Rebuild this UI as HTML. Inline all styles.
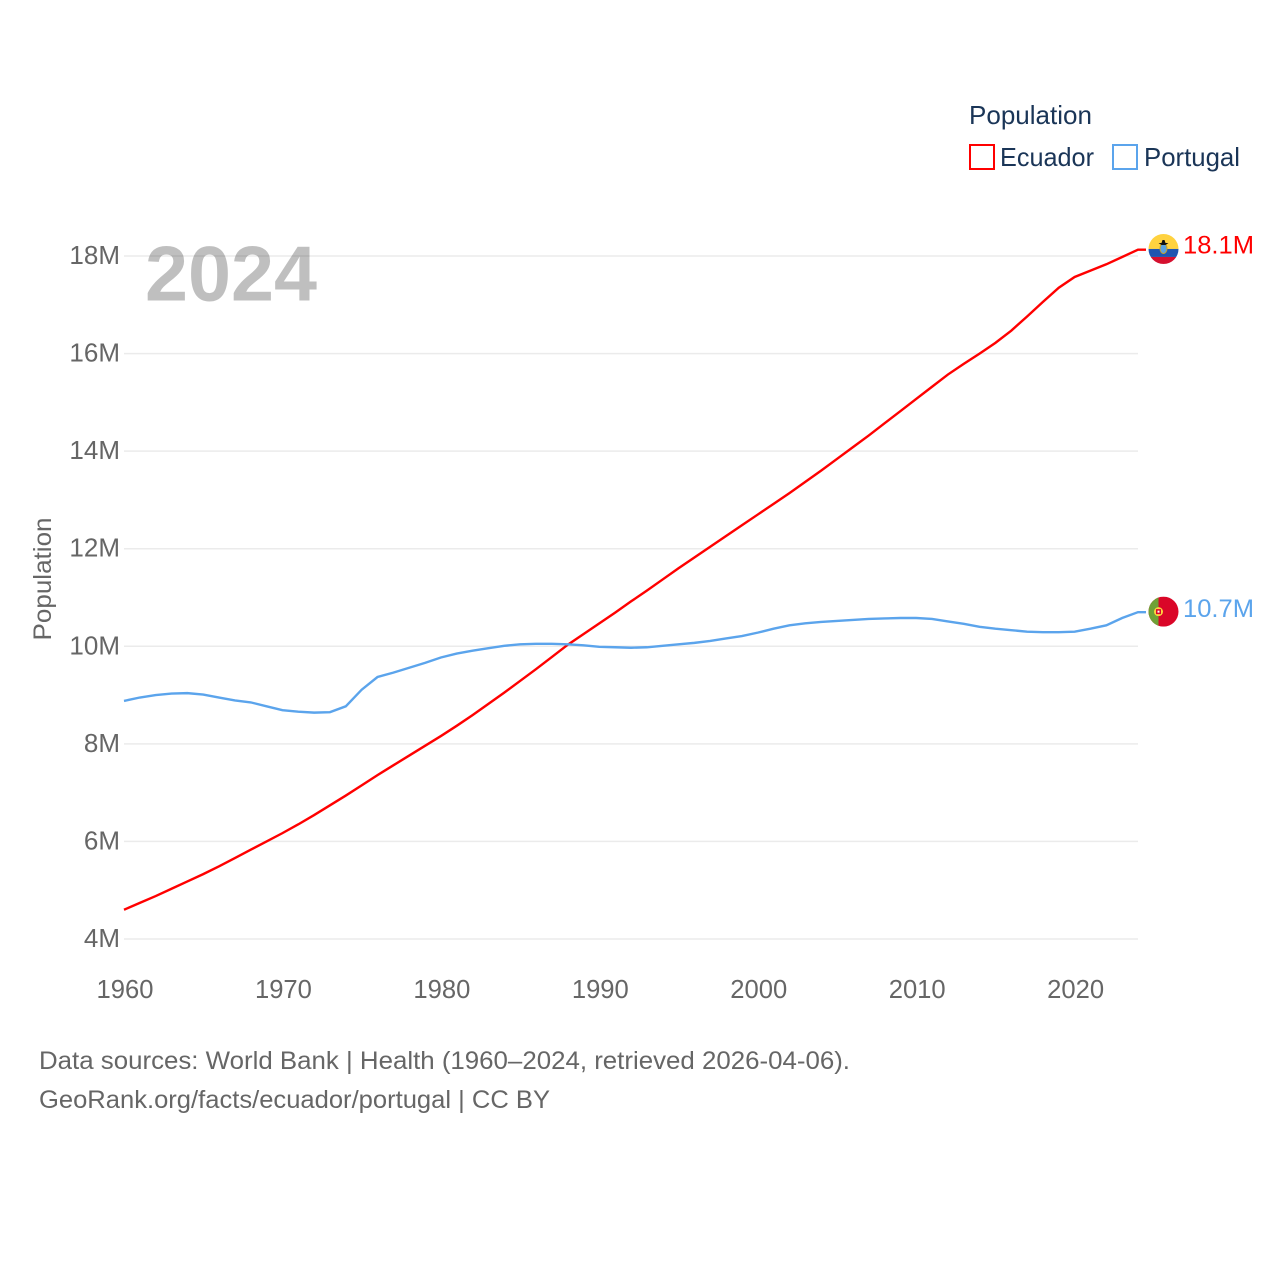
<!DOCTYPE html>
<html lang="en">
<head>
<meta charset="utf-8">
<title>Population: Ecuador and Portugal</title>
<style>
html,body{margin:0;padding:0;background:#fff;}
svg{display:block;font-family:"Liberation Sans",sans-serif;}
</style>
</head>
<body>
<svg id="chart" xmlns="http://www.w3.org/2000/svg" width="1280" height="1280" viewBox="0 0 1280 1280">
  <defs>
    <clipPath id="ecuador-clip"><circle cx="0" cy="0" r="15"></circle></clipPath>
    <clipPath id="portugal-clip"><circle cx="0" cy="0" r="15"></circle></clipPath>
  </defs>
  <g id="grid"></g>
  <g id="y-ticks"></g>
  <g id="x-ticks"></g>
  <text x="145" y="300.5" font-size="78" font-weight="700" fill="#000" fill-opacity="0.25" textLength="172" lengthAdjust="spacingAndGlyphs">2024</text>
  <text transform="translate(51,579) rotate(-90)" text-anchor="middle" font-size="25" fill="#666" textLength="123" lengthAdjust="spacingAndGlyphs">Population</text>
  <g id="series"></g>
  <g id="ends"></g>
  <g>
    <text x="969" y="124" font-size="26" fill="#1a3557" textLength="123" lengthAdjust="spacingAndGlyphs">Population</text>
    <rect x="970" y="145" width="24" height="24" fill="#fff" stroke="#ff0000" stroke-width="2"></rect>
    <text x="1000" y="166" font-size="26" fill="#1a3557" textLength="94" lengthAdjust="spacingAndGlyphs">Ecuador</text>
    <rect x="1113" y="145" width="24" height="24" fill="#fff" stroke="#5ba4ec" stroke-width="2"></rect>
    <text x="1144" y="166" font-size="26" fill="#1a3557" textLength="96" lengthAdjust="spacingAndGlyphs">Portugal</text>
  </g>
  <text x="39" y="1069" font-size="25" fill="#666" textLength="811" lengthAdjust="spacingAndGlyphs">Data sources: World Bank | Health (1960–2024, retrieved 2026-04-06).</text>
  <text x="39" y="1108" font-size="25" fill="#666" textLength="511" lengthAdjust="spacingAndGlyphs">GeoRank.org/facts/ecuador/portugal | CC BY</text>
</svg>
<script>
const years = [1960,1961,1962,1963,1964,1965,1966,1967,1968,1969,1970,1971,1972,1973,1974,1975,1976,1977,1978,1979,1980,1981,1982,1983,1984,1985,1986,1987,1988,1989,1990,1991,1992,1993,1994,1995,1996,1997,1998,1999,2000,2001,2002,2003,2004,2005,2006,2007,2008,2009,2010,2011,2012,2013,2014,2015,2016,2017,2018,2019,2020,2021,2022,2023,2024];
const ecuadorValues = [4.60,4.74,4.88,5.03,5.18,5.33,5.49,5.66,5.83,6.00,6.17,6.35,6.54,6.74,6.94,7.15,7.36,7.56,7.76,7.96,8.16,8.37,8.59,8.82,9.05,9.29,9.53,9.78,10.03,10.25,10.47,10.69,10.92,11.14,11.37,11.60,11.82,12.04,12.26,12.48,12.70,12.92,13.14,13.37,13.60,13.84,14.08,14.32,14.57,14.82,15.07,15.32,15.57,15.79,16.00,16.22,16.47,16.76,17.06,17.35,17.57,17.70,17.83,17.98,18.13];
const portugalValues = [8.88,8.95,9.00,9.03,9.04,9.01,8.95,8.89,8.85,8.77,8.69,8.66,8.64,8.65,8.77,9.11,9.37,9.46,9.56,9.66,9.77,9.85,9.91,9.96,10.01,10.04,10.05,10.05,10.04,10.02,9.99,9.98,9.97,9.98,10.01,10.04,10.07,10.11,10.16,10.21,10.28,10.36,10.43,10.47,10.50,10.52,10.54,10.56,10.57,10.58,10.58,10.56,10.51,10.46,10.40,10.36,10.33,10.30,10.29,10.29,10.30,10.36,10.43,10.58,10.70];
const yTickValues = [4,6,8,10,12,14,16,18];
const yTickLabels = ["4M","6M","8M","10M","12M","14M","16M","18M"];
const xTickValues = [1960,1970,1980,1990,2000,2010,2020];
const xTickLabels = ["1960","1970","1980","1990","2000","2010","2020"];
const endLabelEcuador = "18.1M";
const endLabelPortugal = "10.7M";

const NS = "http://www.w3.org/2000/svg";
const xScale = function (year) { return 124 + (year - 1960) * (1014 / 64); };
const yScale = function (value) { return 939 - (value - 4) * (683 / 14); };

function make(tag, parent) {
  const el = document.createElementNS(NS, tag);
  parent.appendChild(el);
  return el;
}

const gridGroup = document.getElementById("grid");
const yTickGroup = document.getElementById("y-ticks");
yTickValues.forEach(function (value, i) {
  const line = make("line", gridGroup);
  
  
  line.setAttribute("x1", 124);
  line.setAttribute("x2", 1138);
  line.setAttribute("y1", yScale(value));
  line.setAttribute("y2", yScale(value));
  line.setAttribute("stroke", "#ebebeb");
  line.setAttribute("stroke-width", "1.5");
  const label = make("text", yTickGroup);
  
  
  label.setAttribute("x", 120);
  label.setAttribute("y", yScale(value) + 8);
  label.setAttribute("text-anchor", "end");
  label.setAttribute("font-size", "26");
  label.setAttribute("fill", "#666");
  label.textContent = yTickLabels[i];
});

const xTickGroup = document.getElementById("x-ticks");
xTickValues.forEach(function (value, i) {
  const label = make("text", xTickGroup);
  
  
  label.setAttribute("x", xScale(value) + 1);
  label.setAttribute("y", 998);
  label.setAttribute("text-anchor", "middle");
  label.setAttribute("font-size", "25.6");
  label.setAttribute("fill", "#666");
  label.textContent = xTickLabels[i];
});

function linePoints(values) {
  const pts = values.map(function (v, i) {
    return xScale(years[i]).toFixed(2) + "," + yScale(v).toFixed(2);
  });
  const last = values[values.length - 1];
  pts.push((xScale(years[years.length - 1]) + 8).toFixed(2) + "," + yScale(last).toFixed(2));
  return pts.join(" ");
}

const seriesGroup = document.getElementById("series");
const ecuadorLine = make("polyline", seriesGroup);


ecuadorLine.setAttribute("points", linePoints(ecuadorValues));
ecuadorLine.setAttribute("fill", "none");
ecuadorLine.setAttribute("stroke", "#ff0000");
ecuadorLine.setAttribute("stroke-width", "2.4");

const portugalLine = make("polyline", seriesGroup);


portugalLine.setAttribute("points", linePoints(portugalValues));
portugalLine.setAttribute("fill", "none");
portugalLine.setAttribute("stroke", "#5ba4ec");
portugalLine.setAttribute("stroke-width", "2.4");

function rect(parent, x, y, w, h, fill) {
  const r = make("rect", parent);
  r.setAttribute("x", x);
  r.setAttribute("y", y);
  r.setAttribute("width", w);
  r.setAttribute("height", h);
  r.setAttribute("fill", fill);
  return r;
}

const endsGroup = document.getElementById("ends");
const flagX = 1163.5;

const ecuadorY = yScale(ecuadorValues[ecuadorValues.length - 1]);
const ecuadorFlag = make("g", endsGroup);


ecuadorFlag.setAttribute("transform", "translate(" + flagX + "," + (ecuadorY - 0.7) + ")");
const ecuadorInner = make("g", ecuadorFlag);
ecuadorInner.setAttribute("clip-path", "url(#ecuador-clip)");
rect(ecuadorInner, -15, -15, 30, 15, "#ffd23f");
rect(ecuadorInner, -15, 0, 30, 8, "#1f55b0");
rect(ecuadorInner, -15, 8, 30, 7, "#d5102f");
const emblemOval = make("ellipse", ecuadorInner);
emblemOval.setAttribute("cx", 0);
emblemOval.setAttribute("cy", -0.5);
emblemOval.setAttribute("rx", 3.5);
emblemOval.setAttribute("ry", 5);
emblemOval.setAttribute("fill", "#5aa2e0");
emblemOval.setAttribute("stroke", "#c9a227");
emblemOval.setAttribute("stroke-width", "1");
const emblemBird = make("path", ecuadorInner);
emblemBird.setAttribute("d", "M-5,-6 L-2,-6 L-1,-9 L1,-9 L2,-6 L5,-6 L2,-4 L-2,-4 Z");
emblemBird.setAttribute("fill", "#111");

const portugalY = yScale(portugalValues[portugalValues.length - 1]);
const portugalFlag = make("g", endsGroup);


portugalFlag.setAttribute("transform", "translate(" + flagX + "," + (portugalY - 0.5) + ")");
const portugalInner = make("g", portugalFlag);
portugalInner.setAttribute("clip-path", "url(#portugal-clip)");
rect(portugalInner, -15, -15, 30, 30, "#da0628");
rect(portugalInner, -15, -15, 10, 30, "#6fa136");
const armillary = make("circle", portugalInner);
armillary.setAttribute("cx", -5);
armillary.setAttribute("cy", 0);
armillary.setAttribute("r", 4.5);
armillary.setAttribute("fill", "#ffd23f");
const shield = make("rect", portugalInner);
shield.setAttribute("x", -7.5);
shield.setAttribute("y", -2.5);
shield.setAttribute("width", 5);
shield.setAttribute("height", 5);
shield.setAttribute("fill", "#da0628");
const shieldCore = make("rect", portugalInner);
shieldCore.setAttribute("x", -6);
shieldCore.setAttribute("y", -1);
shieldCore.setAttribute("width", 2);
shieldCore.setAttribute("height", 2);
shieldCore.setAttribute("fill", "#fff");

const ecuadorEnd = make("text", endsGroup);


ecuadorEnd.setAttribute("x", 1183);
ecuadorEnd.setAttribute("y", ecuadorY + 4);
ecuadorEnd.setAttribute("font-size", "25");
ecuadorEnd.setAttribute("fill", "#ff0000");
ecuadorEnd.setAttribute("textLength", "71");
ecuadorEnd.setAttribute("lengthAdjust", "spacingAndGlyphs");
ecuadorEnd.textContent = endLabelEcuador;

const portugalEnd = make("text", endsGroup);


portugalEnd.setAttribute("x", 1183);
portugalEnd.setAttribute("y", portugalY + 5);
portugalEnd.setAttribute("font-size", "25");
portugalEnd.setAttribute("fill", "#5ba4ec");
portugalEnd.setAttribute("textLength", "71");
portugalEnd.setAttribute("lengthAdjust", "spacingAndGlyphs");
portugalEnd.textContent = endLabelPortugal;
</script>
</body>
</html>
